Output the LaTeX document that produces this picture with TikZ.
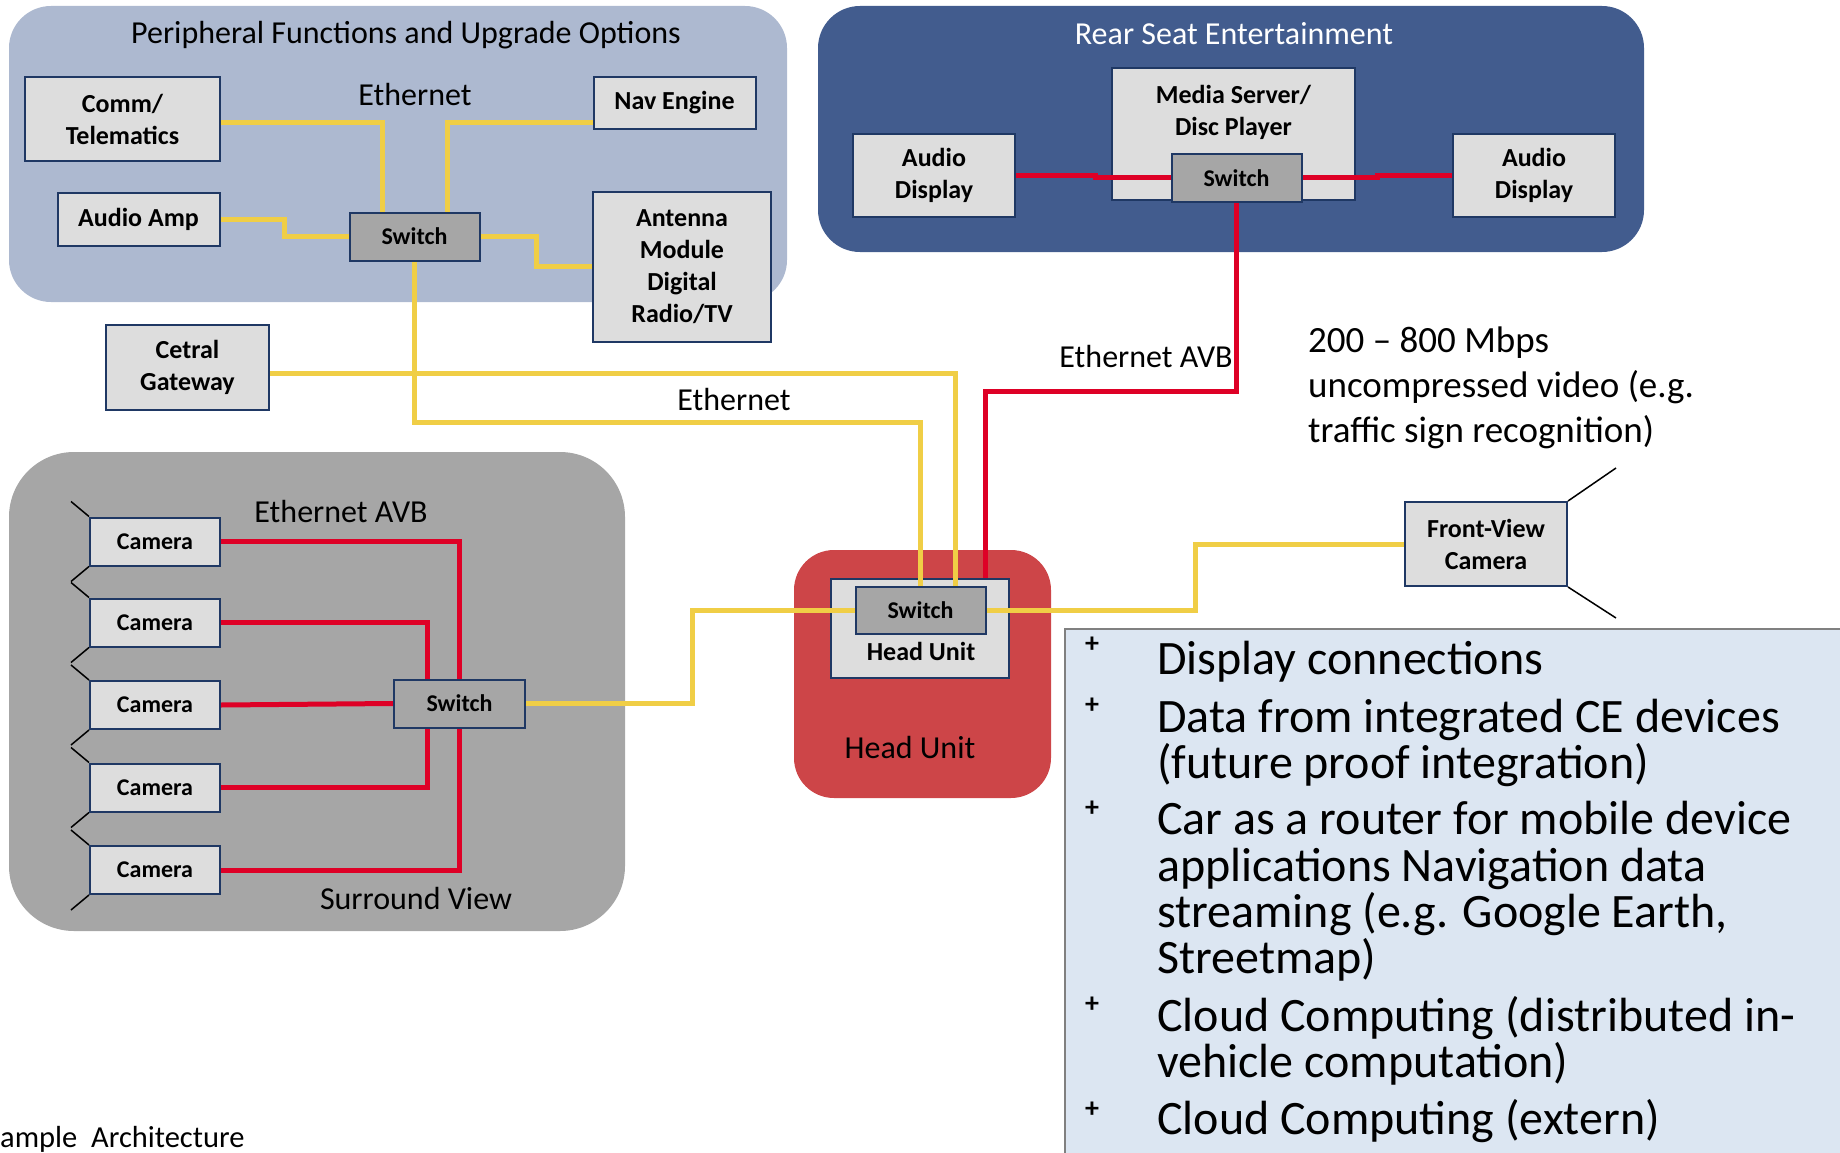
\documentclass[tikz,border=0pt]{standalone}
\usepackage{fontspec}
\setmainfont{Carlito}
\usetikzlibrary{calc}
\definecolor{periphcol}{RGB}{173,185,208}
\definecolor{rsecol}{RGB}{66,92,142}
\definecolor{svcol}{RGB}{166,166,166}
\definecolor{hucol}{RGB}{205,69,72}
\definecolor{boxgray}{RGB}{221,221,221}
\definecolor{swgray}{RGB}{166,166,166}
\definecolor{navy}{RGB}{31,56,100}
\definecolor{ycol}{RGB}{240,206,70}
\definecolor{rcol}{RGB}{222,0,38}
\definecolor{bulfill}{RGB}{220,230,242}
\definecolor{bulline}{RGB}{128,128,128}
\pgfdeclarelayer{bg}
\pgfdeclarelayer{conn}
\pgfsetlayers{bg,conn,main}
\begin{document}
\begin{tikzpicture}[x=1pt,y=-1pt,
  devbox/.style={draw=navy, fill=boxgray, line width=2pt, inner sep=0pt, align=center, font=\bfseries\fontsize{26}{32}\selectfont},
  swbox/.style={devbox, fill=swgray, font=\bfseries\fontsize{24}{29}\selectfont, minimum width=130pt, minimum height=48pt},
  cambox/.style={devbox, font=\bfseries\fontsize{24}{29}\selectfont, minimum width=130pt, minimum height=48pt},
  lbl/.style={inner sep=0pt, font=\fontsize{32}{39}\selectfont, anchor=base},
  mbps/.style={inner sep=0pt, anchor=base west, font=\fontsize{37}{45}\selectfont},
  eth/.style={draw=ycol, line width=5pt},
  avb/.style={draw=rcol, line width=5pt},
  lensline/.style={draw=black, line width=1.5pt},
  bul/.style={inner sep=0pt, anchor=base west, font=\fontsize{48}{48}\selectfont},
  plusmark/.style={inner sep=0pt, font=\bfseries\fontsize{28}{28}\selectfont},
]
\useasboundingbox (0,0) rectangle (1840,1153);

\begin{pgfonlayer}{bg}
  \fill[periphcol, rounded corners=42pt] (9,6) rectangle (787,302);
  \fill[rsecol, rounded corners=42pt] (818,6) rectangle (1644,252);
  \fill[svcol, rounded corners=65pt] (9,452) rectangle (625,931);
  \fill[hucol, rounded corners=40pt] (794,550) rectangle (1051,798);
  \fill[bulfill] (1065,629) rectangle (1840,1153);
  \draw[bulline, line width=2pt] (1840,629) -- (1065,629) -- (1065,1153);
  \node[devbox, minimum width=243pt, minimum height=132pt] (media) at (1233.5,134) {};
  \node[devbox, minimum width=178pt, minimum height=99pt] (hubox) at (920,628.5) {};
\end{pgfonlayer}

% Peripheral
\node[devbox, minimum width=195pt, minimum height=84pt] (comm) at (122.5,119) {Comm/\\Telematics};
\node[devbox, minimum width=162pt, minimum height=53pt] (amp) at (138.5,219.5) {Audio Amp};
\node[swbox] (psw) at (414.5,236.5) {Switch};
\node[devbox, minimum width=162pt, minimum height=52pt] (nav) at (674.5,103) {Nav Engine};
\node[devbox, minimum width=178pt, minimum height=150pt] (ant) at (682,266.5) {Antenna\\Module\\Digital\\Radio/TV};
\node[devbox, minimum width=163pt, minimum height=85pt] (gw) at (187.5,367.5) {Cetral\\Gateway};

% Rear seat
\node[inner sep=0pt, align=center, font=\bfseries\fontsize{26}{32}\selectfont] (mediatext) at (1233.5,112) {Media Server/\\Disc Player};
\node[swbox] (rsw) at (1236.5,178) {Switch};
\node[devbox, minimum width=162pt, minimum height=83pt] (adl) at (934,175.5) {Audio\\Display};
\node[devbox, minimum width=162pt, minimum height=83pt] (adr) at (1534,175.5) {Audio\\Display};

% Surround view
\foreach \i/\yy in {1/541.5, 2/622.5, 3/705, 4/787.5, 5/870} {
  \node[cambox] (c\i) at (155,\yy) {Camera};
  \draw[lensline] (c\i.north west) -- ++(-18,-15);
  \draw[lensline] (c\i.south west) -- ++(-18,15);
}
\node[swbox, minimum width=131pt] (ssw) at (459.5,703.5) {Switch};

% Head unit
\node[swbox, minimum height=47pt] (husw) at (920.5,610.5) {Switch};
\node[lbl, font=\bfseries\fontsize{26}{32}\selectfont] (hutext) at (921,660) {Head Unit};

% Front view camera
\node[devbox, minimum width=162pt, minimum height=84pt] (fvc) at (1486,544) {Front-View\\Camera};
\draw[lensline] (fvc.north east) -- ++(48,-33);
\draw[lensline] (fvc.south east) -- ++(48,31);

% Labels
\node[lbl] (ttl1) at (406,44) {Peripheral Functions and Upgrade Options};
\node[lbl, text=white] (ttl2) at (1234,45) {Rear Seat Entertainment};
\node[lbl] (eth1) at (415,106) {Ethernet};
\node[lbl] (eth2) at (734,410) {Ethernet};
\node[lbl] (avb1) at (1146,367) {Ethernet AVB};
\node[lbl] (avb2) at (341,522) {Ethernet AVB};
\node[lbl] (svl) at (416,909) {Surround View};
\node[lbl] (hul) at (910,758) {Head Unit};
\node[lbl, anchor=base west, font=\fontsize{30.5}{37}\selectfont] (foot) at (0,1147) {ample\ \ Architecture};

\node[mbps] (mb1) at (1308,352) {200 – 800 Mbps};
\node[mbps] (mb2) at (1308,397) {uncompressed video (e.g.};
\node[mbps] (mb3) at (1308,442) {traffic sign recognition)};

% Bullets
\foreach \yy [count=\k] in {645,706,809,1005,1110} {
  \node[plusmark] (p\k) at (1092,\yy) {+};
}
\node[bul] (b1) at (1157,674) {Display connections};
\node[bul] (b2a) at (1157,732) {Data from integrated CE devices};
\node[bul] (b2b) at (1157,778) {(future proof integration)};
\node[bul] (b3a) at (1157,834) {Car as a router for mobile device};
\node[bul] (b3b) at (1157,881) {applications Navigation data};
\node[bul] (b3c) at (1157,927) {streaming (e.g. Google Earth,};
\node[bul] (b3d) at (1157,973) {Streetmap)};
\node[bul] (b4a) at (1157,1031) {Cloud Computing (distributed in-};
\node[bul] (b4b) at (1157,1077) {vehicle computation)};
\node[bul] (b5) at (1157,1134) {Cloud Computing (extern)};

% Connectors
\begin{pgfonlayer}{conn}
  \draw[eth] ([yshift=-4pt]comm.east) -| ([xshift=-32.5pt]psw.north);
  \draw[eth] ([yshift=-20pt]nav.west) -| ([xshift=32.5pt]psw.north);
  \draw[eth] (amp.east) -- ++(64,0) |- (psw.west);
  \draw[eth] (psw.east) -- ++(56,0) |- (ant.west);
  \draw[eth] (psw.south) -- ++(0,161) -| (husw.north);
  \draw[eth] ([yshift=-5.5pt]gw.east) -| ([xshift=35pt]husw.north);
  \draw[eth] (ssw.east) -- ++(166,0) |- (husw.west);
  \draw[eth] (husw.east) -- ++(209,0) |- (fvc.west);
  \draw[avb] (adl.east) -- ++(79,0) |- (rsw.west);
  \draw[avb] (rsw.east) -- ++(75,0) |- (adr.west);
  \draw[avb] (rsw.south) -- ++(0,188) -| ([xshift=65pt]hubox.north);
  \draw[avb] (c1.east) -| (ssw.north);
  \draw[avb] (c2.east) -| ([xshift=-32pt]ssw.north);
  \draw[avb] (c3.east) -- (ssw.west);
  \draw[avb] (c4.east) -| ([xshift=-32pt]ssw.south);
  \draw[avb] (c5.east) -| (ssw.south);
\end{pgfonlayer}
\end{tikzpicture}
\end{document}
